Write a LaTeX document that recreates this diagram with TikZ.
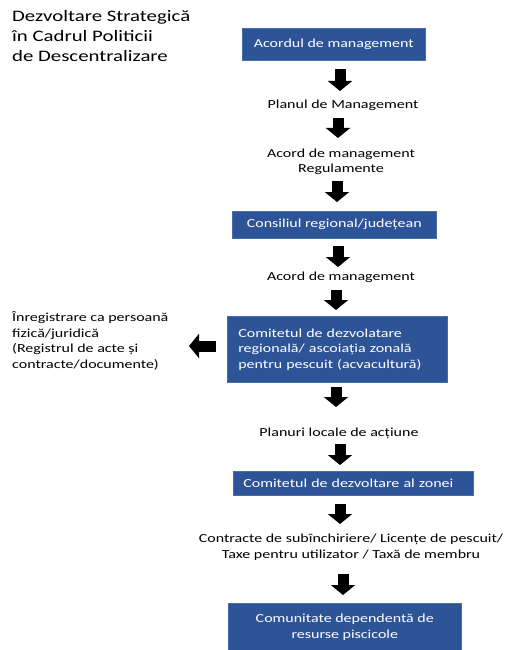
\documentclass[tikz,border=0pt]{standalone}
\usepackage{fontspec}
\setmainfont{Carlito}[FakeStretch=1.3]
\usetikzlibrary{arrows.meta}
\definecolor{boxblue}{RGB}{46,84,152}
\definecolor{boxedge}{RGB}{70,110,175}
\begin{document}
\begin{tikzpicture}[x=1pt,y=-1pt,
  bluebox/.style={fill=boxblue, draw=boxedge, line width=0.6pt, text=white,
    font=\fontsize{12.3}{15.5}\selectfont, inner sep=0pt, anchor=north west},
  plain/.style={font=\fontsize{12.3}{15.5}\selectfont, align=center, inner sep=0pt},
  blockarrow/.style={line width=11pt, black, -{Triangle[width=24pt,length=10pt]}}
]
\useasboundingbox[fill=white] (0,0) rectangle (506,650);

% title
\node[anchor=north west, align=left, inner sep=0pt, font=\fontsize{16}{20}\selectfont]
  (title) at (12,10) {Dezvoltare Strategică\\în Cadrul Politicii\\de Descentralizare};

% boxes
\node[bluebox, minimum width=183pt, minimum height=32pt] (b1) at (242,28) {Acordul de management};
\node[bluebox, minimum width=204pt, minimum height=27pt] (b2) at (232,211) {Consiliul regional/județean};
\node[bluebox, minimum width=220pt, minimum height=66pt, text width=220pt, inner xsep=0pt, align=left]
  (b3) at (227,316) {\hspace*{11pt}Comitetul de dezvolatare\\\hspace*{11pt}regională/ ascoiația zonală\\\hspace*{11pt}pentru pescuit (acvacultură)};
\node[bluebox, minimum width=240pt, minimum height=24pt, text width=240pt, inner xsep=0pt, align=left]
  (b4) at (233,471) {\hspace*{10pt}Comitetul de dezvoltare al zonei};
\node[bluebox, minimum width=233pt, minimum height=48pt, align=center]
  (b5) at (228,603) {Comunitate dependentă de\\resurse piscicole};

% plain texts
\node[plain] (t1) at (343,105) {Planul de Management};
\node[plain] (t2) at (341,162) {Acord de management\\Regulamente};
\node[plain] (t3) at (341,277) {Acord de management};
\node[plain] (t4) at (339,433) {Planuri locale de acțiune};
\node[plain] (t5) at (351,547) {Contracte de subînchiriere/ Licențe de pescuit/\\Taxe pentru utilizator / Taxă de membru};
\node[plain, anchor=west, align=left] (t6) at (12,341)
  {Înregistrare ca persoană\\fizică/juridică\\(Registrul de acte și\\contracte/documente)};

% block arrow end points
\coordinate (a1s) at (340,69);  \coordinate (a1e) at (340,91);
\coordinate (a2s) at (338,118); \coordinate (a2e) at (338,138);
\coordinate (a3s) at (337,181); \coordinate (a3e) at (337,202);
\coordinate (a4s) at (338,246); \coordinate (a4e) at (338,267);
\coordinate (a5s) at (336,290); \coordinate (a5e) at (336,310);
\coordinate (a6s) at (336,387); \coordinate (a6e) at (336,407);
\coordinate (a7s) at (340,444); \coordinate (a7e) at (340,465);
\coordinate (a8s) at (340,504); \coordinate (a8e) at (340,524);
\coordinate (a9s) at (343,574); \coordinate (a9e) at (343,595);
\coordinate (a10s) at (216,346); \coordinate (a10e) at (189,346);

\foreach \i in {1,...,10} \draw[blockarrow] (a\i s) -- (a\i e);
\end{tikzpicture}
\end{document}
